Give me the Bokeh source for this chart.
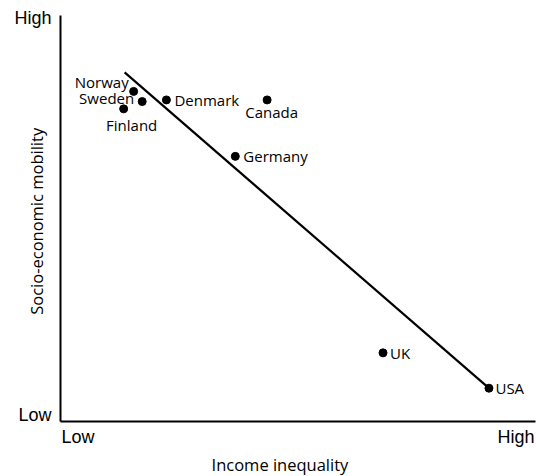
import math
from bokeh.plotting import figure
from bokeh.models import ColumnDataSource, Range1d, FixedTicker
from bokeh.core.properties import value
from bokeh.embed import file_html
from bokeh.resources import INLINE

# ---- data ----
countries = ["Norway", "Sweden", "Finland", "Denmark", "Canada", "Germany", "UK", "USA"]
inequality = [15.4, 17.2, 13.3, 22.3, 43.5, 36.8, 67.9, 90.2]
mobility = [81.3, 78.8, 77.0, 79.2, 79.2, 65.3, 16.9, 8.2]
trend_x = [13.5, 90.2]
trend_y = [86.0, 8.2]
x_tick_pos = [3.7, 95.9]
x_tick_labels = ["Low", "High"]
y_tick_pos = [1.6, 99.45]
y_tick_labels = ["Low", "High"]
x_title = "Income inequality"
y_title = "Socio-economic mobility"

# ---- label layout (screen offsets) ----
lab_align = ["right", "right", "center", "left", "center", "left", "left", "left"]
lab_dx = [-5, -8, 8, 8, 4.5, 8, 7, 6.5]
lab_dy = [-9, -4, 16, 0, 12, 0, 0, 0]

FONT = "Open Sans"

p = figure(width=536, height=476, output_backend="svg", toolbar_location=None,
           x_range=Range1d(-12.63, 100.21), y_range=Range1d(-13.55, 103.69),
           min_border_left=0, min_border_right=0, min_border_top=0, min_border_bottom=0)
p.outline_line_color = None
p.grid.visible = False
p.background_fill_color = "white"
p.border_fill_color = "white"

for ax in (p.xaxis[0], p.yaxis[0]):
    ax.fixed_location = 0
    ax.bounds = (0, 100)
    ax.axis_line_width = 2
    ax.axis_line_color = "black"
    ax.major_tick_line_color = None
    ax.minor_tick_line_color = None
    ax.major_tick_out = 0
    ax.major_tick_in = 0
    ax.minor_tick_out = 0
    ax.minor_tick_in = 0
    ax.major_label_text_font = "Liberation Sans"
    ax.major_label_text_font_size = "18px"
    ax.major_label_text_color = "black"

p.xaxis.ticker = FixedTicker(ticks=x_tick_pos)
p.xaxis.major_label_overrides = {t: l for t, l in zip(x_tick_pos, x_tick_labels)}
p.xaxis.major_label_standoff = 6
p.yaxis.ticker = FixedTicker(ticks=y_tick_pos)
p.yaxis.major_label_overrides = {t: l for t, l in zip(y_tick_pos, y_tick_labels)}
p.yaxis.major_label_standoff = 9
p.yaxis.major_label_orientation = "horizontal"

p.line(trend_x, trend_y, line_color="black", line_width=2.2)

src = ColumnDataSource(dict(x=inequality, y=mobility, name=countries,
                            align=lab_align, dx=lab_dx, dy=lab_dy))
p.scatter("x", "y", source=src, size=8, fill_color="black", line_color="black")
p.text("x", "y", text="name", source=src, text_align="align", x_offset="dx", y_offset="dy",
       text_baseline="middle", text_font=value(FONT), text_font_size="15px", text_color="black")

# axis titles (placed as text in the open area of the frame)
p.text(x=[46.2], y=[-10.6], text=[x_title], text_align="center", text_baseline="middle",
       text_font=value(FONT), text_font_size="16.5px", text_color="black")
p.text(x=[-5.05], y=[49.3], text=[y_title], angle=math.pi / 2, text_align="center",
       text_baseline="middle", text_font=value(FONT), text_font_size="16.5px",
       text_color="black")

open("out.html", "w").write(file_html(p, INLINE))
